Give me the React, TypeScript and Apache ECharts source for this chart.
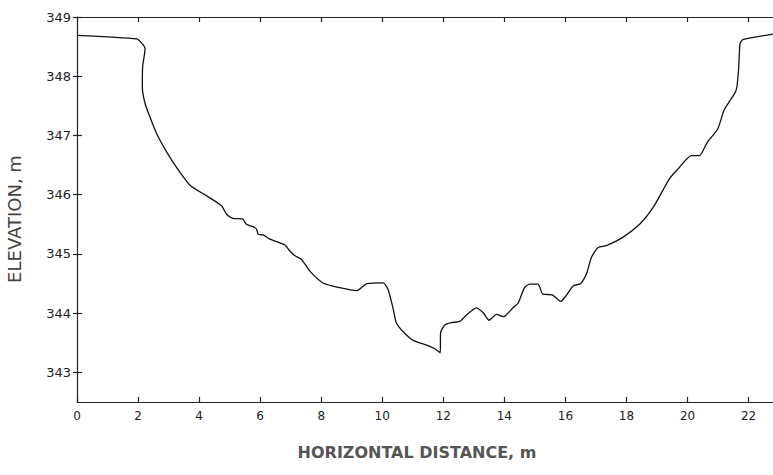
import React, { useEffect, useRef } from "react";
import * as echarts from "echarts";

const distance: number[] = [
  0, 1.95, 2.12, 2.23, 2.15, 2.14, 2.23, 2.39, 2.61, 2.94, 3.26, 3.7, 4.25, 4.74, 4.9, 5.1, 5.42,
  5.55, 5.77, 5.88, 5.94, 6.1, 6.32, 6.81, 6.97, 7.14, 7.35, 7.63, 8.06, 8.61, 9.16, 9.5, 10.03,
  10.19, 10.35, 10.46, 10.68, 11.01, 11.45, 11.72, 11.9, 11.91, 12.05, 12.26, 12.54, 12.76, 13.08,
  13.3, 13.5, 13.74, 13.98, 14.28, 14.45, 14.66, 14.83, 15.1, 15.26, 15.57, 15.85, 16.03, 16.25,
  16.5, 16.69, 16.85, 17.07, 17.34, 17.88, 18.43, 18.87, 19.41, 19.7, 20.12, 20.39, 20.64, 20.99,
  21.2, 21.59, 21.67, 21.72, 21.81, 22.8,
];
const elevation: number[] = [
  348.69, 348.63, 348.56, 348.47, 348.16, 347.82, 347.54, 347.31, 347.03, 346.72, 346.46, 346.16,
  345.98, 345.81, 345.67, 345.6, 345.59, 345.5, 345.46, 345.42, 345.33, 345.32, 345.25, 345.15,
  345.05, 344.97, 344.91, 344.71, 344.51, 344.43, 344.38, 344.5, 344.51, 344.4, 344.09, 343.84,
  343.69, 343.54, 343.46, 343.4, 343.33, 343.67, 343.8, 343.84, 343.86, 343.97, 344.09, 344.01,
  343.88, 343.98, 343.94, 344.09, 344.17, 344.43, 344.49, 344.49, 344.32, 344.31, 344.2, 344.3,
  344.46, 344.5, 344.66, 344.94, 345.11, 345.14, 345.28, 345.5, 345.78, 346.27, 346.44, 346.66,
  346.66, 346.88, 347.11, 347.43, 347.76, 348.1, 348.55, 348.62, 348.71,
];
const xTicks: number[] = [0, 2, 4, 6, 8, 10, 12, 14, 16, 18, 20, 22];
const yTicks: number[] = [343, 344, 345, 346, 347, 348, 349];
const xTitle = "HORIZONTAL DISTANCE, m";
const yTitle = "ELEVATION, m";

export default function App() {
  const ref = useRef<HTMLDivElement>(null);
  useEffect(() => {
    if (!ref.current) return;
    const chart = echarts.init(ref.current, undefined, { renderer: "svg" });
    const font = "DejaVu Sans";
    const lineStyle = { color: "#222", width: 1.2 };
    chart.setOption({
      animation: false,
      backgroundColor: "#ffffff",
      grid: { left: 77, top: 17, right: 0, bottom: 73 },
      xAxis: [
        {
          type: "value",
          min: 0,
          max: 22.8,
          position: "bottom",
          axisLine: { show: true, lineStyle },
          axisTick: { show: true, inside: true, length: 5, lineStyle, customValues: xTicks },
          axisLabel: {
            customValues: xTicks,
            color: "#222",
            fontFamily: font,
            fontSize: 12,
            margin: 8,
          },
          splitLine: { show: false },
        },
        {
          type: "value",
          min: 0,
          max: 22.8,
          position: "top",
          axisLine: { show: true, lineStyle },
          axisTick: { show: true, inside: true, length: 5, lineStyle, customValues: xTicks },
          axisLabel: { show: false },
          splitLine: { show: false },
        },
      ],
      yAxis: [
        {
          type: "value",
          min: 342.5,
          max: 349,
          position: "left",
          axisLine: { show: true, lineStyle },
          axisTick: { show: true, inside: true, length: 5, lineStyle, customValues: yTicks },
          axisLabel: {
            customValues: yTicks,
            color: "#222",
            fontFamily: font,
            fontSize: 13,
            margin: 6,
          },
          splitLine: { show: false },
        },
        {
          type: "value",
          min: 342.5,
          max: 349,
          position: "right",
          axisLine: { show: false },
          axisTick: { show: true, inside: true, length: 4, lineStyle, customValues: yTicks },
          axisLabel: { show: false },
          splitLine: { show: false },
        },
      ],
      series: [
        {
          type: "line",
          data: distance.map((d, i) => [d, elevation[i]]),
          showSymbol: false,
          smooth: 0.2,
          lineStyle: { color: "#111", width: 1.3 },
          silent: true,
        },
      ],
      graphic: [
        {
          type: "text",
          x: 14,
          y: 219,
          rotation: Math.PI / 2,
          style: {
            text: yTitle,
            fontFamily: font,
            fontSize: 18,
            fill: "#444",
            align: "center",
            verticalAlign: "middle",
          },
        },
        {
          type: "text",
          x: 417,
          y: 452,
          style: {
            text: xTitle,
            fontFamily: font,
            fontSize: 16,
            fontWeight: "bold",
            fill: "#555",
            align: "center",
            verticalAlign: "middle",
          },
        },
      ],
    });
    return () => chart.dispose();
  }, []);
  return (
    <div
      ref={ref}
      style={{ position: "absolute", left: 0, top: 0, width: 773, height: 475 }}
    />
  );
}
